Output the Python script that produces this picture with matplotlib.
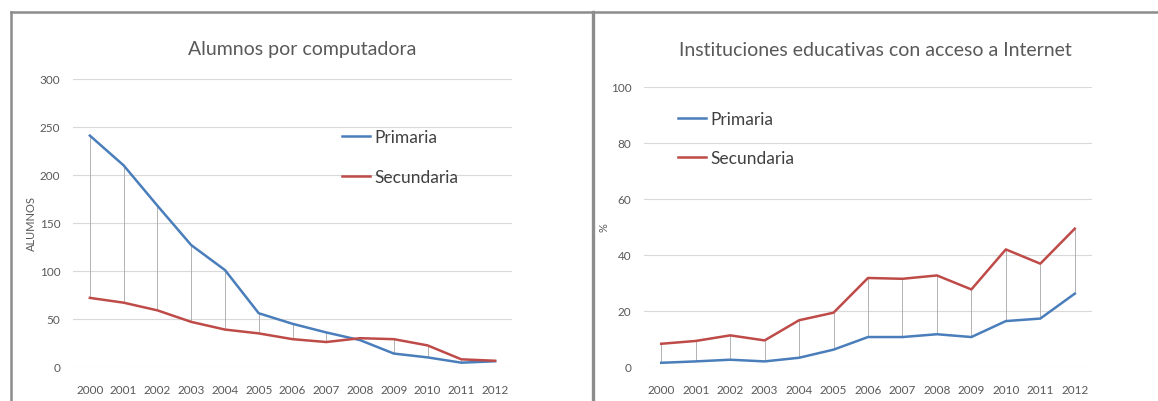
import matplotlib

matplotlib.use("Agg")
import matplotlib.pyplot as plt
from matplotlib.lines import Line2D

plt.rcParams["font.family"] = ["Lato", "DejaVu Sans"]

years = list(range(2000, 2013))
year_labels = [str(y) for y in years]

# Alumnos por computadora
alumnos_primaria = [241, 210, 168, 127, 101, 56, 45, 36, 28, 14, 10, 4.5, 6]
alumnos_secundaria = [72, 67, 59, 47, 39, 35, 29, 26, 30, 29, 22.5, 8, 6.5]

# Instituciones educativas con acceso a Internet (%)
internet_primaria = [1.5, 2.0, 2.6, 2.0, 3.3, 6.2, 10.7, 10.7, 11.7, 10.7, 16.4, 17.3, 26.2]
internet_secundaria = [8.3, 9.3, 11.3, 9.5, 16.7, 19.4, 31.8, 31.5, 32.7, 27.7, 42.0, 36.9, 49.4]

BLUE = "#4a7ebb"
RED = "#be4b48"
TEXT = "#595959"
GRID = "#d9d9d9"
DROP = "#a6a6a6"
BORDER = "#8c8c8c"

W, H = 1158, 402


def px_axes(fig, left, top, right, bottom):
    return fig.add_axes([left / W, 1 - bottom / H, (right - left) / W, (bottom - top) / H])


def draw_panel(ax, prim, sec, ymax, ystep, title, ylabel, ylabelpad, legend_xy, title_x):
    lo = [min(a, b) for a, b in zip(prim, sec)]
    hi = [max(a, b) for a, b in zip(prim, sec)]
    ax.vlines(years, lo, hi, color=DROP, linewidth=0.6, zorder=1)
    ax.plot(years, prim, color=BLUE, linewidth=1.8, label="Primaria", zorder=3)
    ax.plot(years, sec, color=RED, linewidth=1.8, label="Secundaria", zorder=3)

    ax.set_xlim(1999.5, 2012.5)
    ax.set_ylim(0, ymax)
    ax.set_xticks(years)
    ax.set_xticklabels(year_labels)
    ax.set_yticks(range(0, ymax + 1, ystep))
    ax.grid(axis="y", color=GRID, linewidth=0.8, zorder=0)
    ax.set_axisbelow(True)
    for spine in ax.spines.values():
        spine.set_visible(False)
    ax.tick_params(length=0, colors=TEXT, labelsize=8.5)
    ax.tick_params(axis="x", pad=12)
    ax.tick_params(axis="y", pad=9)
    ax.set_ylabel(ylabel, color=TEXT, fontsize=8, labelpad=ylabelpad)

    leg = ax.legend(
        loc="upper left",
        bbox_to_anchor=legend_xy,
        frameon=False,
        fontsize=12.5,
        handlelength=1.6,
        handletextpad=0.25,
        labelspacing=1.35,
        borderpad=0,
        borderaxespad=0,
    )
    for t in leg.get_texts():
        t.set_color("#404040")

    ax.figure.text(title_x / W, 1 - 50 / H, title, ha="center", va="center",
                   fontsize=14, color=TEXT)


fig = plt.figure(figsize=(W / 100, H / 100), dpi=100)

ax1 = px_axes(fig, 73, 80, 512, 368)
draw_panel(ax1, alumnos_primaria, alumnos_secundaria, 300, 50,
           "Alumnos por computadora", "ALUMNOS", 2, (0.613, 0.825), 302)

ax2 = px_axes(fig, 644, 88, 1092, 368)
draw_panel(ax2, internet_primaria, internet_secundaria, 100, 20,
           "Instituciones educativas con acceso a Internet", "%", 1, (0.076, 0.915), 875)

# panel frames
fig.add_artist(Line2D([11 / W, 1], [1 - 13 / H, 1 - 13 / H], color=BORDER, linewidth=1.8))
fig.add_artist(Line2D([11 / W, 11 / W], [0, 1 - 13 / H], color=BORDER, linewidth=1.8))
fig.add_artist(Line2D([593 / W, 593 / W], [0, 1 - 13 / H], color=BORDER, linewidth=2.4))

fig.savefig("out.png", dpi=100, facecolor="white")
